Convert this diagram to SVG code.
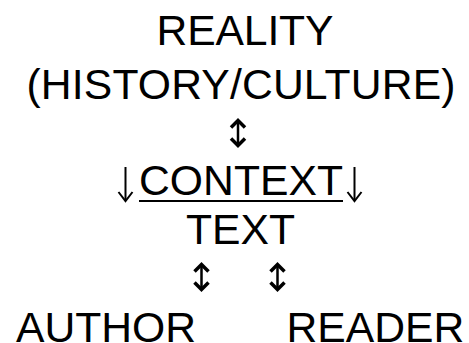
<svg xmlns="http://www.w3.org/2000/svg" width="469" height="343" viewBox="0 0 469 343">
  <style>
    .lbl { font-family: "Liberation Sans", Arial, sans-serif; font-size: 42.67px; fill: #000; }
    .arr { fill: none; stroke: #000; stroke-width: 2.5; }
    .head { fill: none; stroke: #000; stroke-width: 3.5; stroke-linejoin: miter; stroke-linecap: butt; }
    .thin { fill: none; stroke: #000; stroke-width: 2; stroke-linejoin: miter; }
  </style>
  <defs>
    <!-- two-headed vertical arrow, 30px tall, origin at its top centre -->
    <g id="updown">
      <line class="arr" x1="0" y1="2" x2="0" y2="28"/>
      <path class="head" d="M -7 9.5 L 0 2.5 L 7 9.5"/>
      <path class="head" d="M -7 20.5 L 0 27.5 L 7 20.5"/>
    </g>
    <!-- thin downward arrow, 35px tall, origin at its top centre -->
    <g id="down">
      <line class="thin" x1="0" y1="0" x2="0" y2="34"/>
      <path class="thin" d="M -7 25 L 0 34 L 7 25"/>
    </g>
  </defs>

  <g id="reality">
    <text class="lbl" x="156.5" y="44.5" textLength="177" lengthAdjust="spacing">REALITY</text>
    <text class="lbl" x="26.5" y="99" textLength="429" lengthAdjust="spacing">(HISTORY/CULTURE)</text>
  </g>

  <g id="context">
    <use href="#down" x="125.5" y="167"/>
    <text class="lbl" x="139" y="195" textLength="204" lengthAdjust="spacing">CONTEXT</text>
    <use href="#down" x="354.5" y="167"/>
    <line x1="139" y1="201" x2="343" y2="201" stroke="#000" stroke-width="1.8"/>
  </g>

  <g id="text">
    <text class="lbl" x="186" y="244">TEXT</text>
  </g>

  <g id="author">
    <text class="lbl" x="16" y="342">AUTHOR</text>
  </g>

  <g id="reader">
    <text class="lbl" x="286.5" y="342">READER</text>
  </g>

  <g id="connectors">
    <use href="#updown" x="238" y="118"/>
    <use href="#updown" x="201.5" y="262"/>
    <use href="#updown" x="277.5" y="262"/>
  </g>
</svg>
